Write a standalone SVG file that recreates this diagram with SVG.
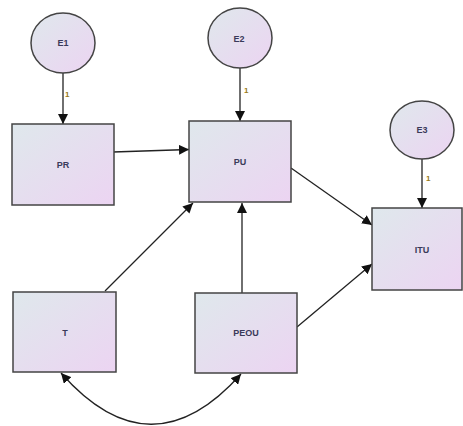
<svg xmlns="http://www.w3.org/2000/svg" width="463" height="426" viewBox="0 0 463 426">
<defs>
<linearGradient id="g" x1="0" y1="0" x2="1" y2="1">
<stop offset="0" stop-color="#dfe8ec"/>
<stop offset="1" stop-color="#ecd4f2"/>
</linearGradient>
<marker id="ah" viewBox="0 0 10 10" refX="10" refY="5" markerWidth="10" markerHeight="10" markerUnits="userSpaceOnUse" orient="auto-start-reverse">
<path d="M0,0 L10,5 L0,10 z" fill="#111"/>
</marker>
</defs>
<style>
.n{fill:url(#g);stroke:#444;stroke-width:1.5}
.t{font-family:"Liberation Sans",Arial,sans-serif;font-size:9px;font-weight:bold;fill:#3a3a5a;text-anchor:middle;dominant-baseline:central}
.c{fill:none;stroke:#222;stroke-width:1.3}
.a{marker-end:url(#ah)}
.w{font-family:"Liberation Sans",Arial,sans-serif;font-size:8px;font-weight:bold;fill:#9a7a20}
</style>
<rect width="463" height="426" fill="#fff"/>
<g id="connectors">
<line class="c a" x1="63" y1="73" x2="63" y2="124"/>
<line class="c a" x1="240" y1="68" x2="240" y2="121"/>
<line class="c a" x1="422" y1="159" x2="422" y2="208"/>
<line class="c a" x1="113" y1="152" x2="189" y2="149.5"/>
<line class="c a" x1="291" y1="168" x2="372" y2="225"/>
<line class="c a" x1="105" y1="291" x2="193" y2="203"/>
<line class="c a" x1="242" y1="293" x2="242" y2="203"/>
<line class="c a" x1="297" y1="327" x2="372" y2="264"/>
<path class="c" d="M61,373 Q151,475 241,374" marker-start="url(#ah)" marker-end="url(#ah)"/>
<text class="w" x="65" y="97">1</text>
<text class="w" x="244" y="93">1</text>
<text class="w" x="426" y="181">1</text>
</g>
<g id="E1"><ellipse class="n" cx="63" cy="43" rx="32" ry="30"/><text class="t" x="63" y="43">E1</text></g>
<g id="E2"><ellipse class="n" cx="240" cy="38" rx="32" ry="30"/><text class="t" x="239" y="39">E2</text></g>
<g id="E3"><ellipse class="n" cx="422" cy="130" rx="32" ry="29"/><text class="t" x="422" y="130">E3</text></g>
<g id="PR"><rect class="n" x="12" y="124" width="102" height="81"/><text class="t" x="63" y="165">PR</text></g>
<g id="PU"><rect class="n" x="189" y="121" width="102" height="81"/><text class="t" x="240" y="162">PU</text></g>
<g id="ITU"><rect class="n" x="372" y="208" width="90" height="82"/><text class="t" x="422" y="250">ITU</text></g>
<g id="T"><rect class="n" x="13" y="292" width="103" height="80"/><text class="t" x="65" y="333">T</text></g>
<g id="PEOU"><rect class="n" x="195" y="293" width="102" height="80"/><text class="t" x="246" y="333">PEOU</text></g>
</svg>
